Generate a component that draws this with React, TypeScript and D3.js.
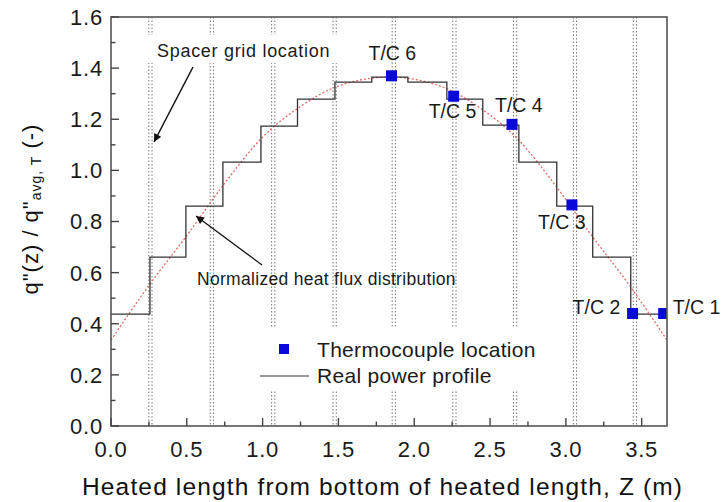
import * as d3 from 'd3';

const VW = 721;
const VH = 502;
const PLOT = { left: 111, right: 667, top: 17, bottom: 426 };

// heated length (m) and normalized heat flux
const Z_MAX = 3.667;
const X_TICKS = [0, 0.5, 1.0, 1.5, 2.0, 2.5, 3.0, 3.5];
const X_MINOR = [0.25, 0.75, 1.25, 1.75, 2.25, 2.75, 3.25];
const Y_TICKS = [0, 0.2, 0.4, 0.6, 0.8, 1.0, 1.2, 1.4, 1.6];
const Y_MINOR = [0.1, 0.3, 0.5, 0.7, 0.9, 1.1, 1.3, 1.5];

const SPACER_Z = [0.26, 0.665, 1.07, 1.475, 1.865, 2.265, 2.665, 3.06, 3.455];

const STEP_EDGES = [0, 0.257, 0.494, 0.738, 0.989, 1.23, 1.477, 1.72, 1.958, 2.215, 2.452, 2.69, 2.94, 3.177, 3.428, 3.667];
const STEP_Q = [0.438, 0.661, 0.86, 1.032, 1.173, 1.279, 1.345, 1.365, 1.345, 1.279, 1.177, 1.032, 0.86, 0.661, 0.438];

const CURVE_Z = [0, 0.25, 0.5, 0.75, 1.0, 1.25, 1.5, 1.835, 2.17, 2.42, 2.67, 2.92, 3.17, 3.42, 3.667];
const CURVE_Q = [0.336, 0.55, 0.745, 0.95, 1.13, 1.25, 1.33, 1.365, 1.33, 1.25, 1.13, 0.95, 0.745, 0.55, 0.336];

const TC_NAMES = ['T/C 1', 'T/C 2', 'T/C 3', 'T/C 4', 'T/C 5', 'T/C 6'];
const TC_Z = [3.645, 3.44, 3.04, 2.645, 2.26, 1.85];
const TC_Q = [0.44, 0.44, 0.865, 1.18, 1.29, 1.37];
// label offset from marker centre (px)
const TC_LABEL_OFFSET: [number, number][] = [[9, 0], [-60, 0], [-34, 24], [-17, -12], [-25, 22], [-23, -16]];

const BLUE = '#0a0ad8';
const RED = '#e06a6a';
const INK = '#333';
const FONT = '"Liberation Sans", Arial, Helvetica, sans-serif';

const x = d3.scaleLinear().domain([0, Z_MAX]).range([PLOT.left, PLOT.right]);
const y = d3.scaleLinear().domain([0, 1.6]).range([PLOT.bottom, PLOT.top]);

const stepPath = d3.line<number>()
  .x(z => x(z))
  .y((_, i) => y(STEP_Q[Math.min(i, STEP_Q.length - 1)]))
  .curve(d3.curveStepAfter)(STEP_EDGES)!;

const curvePath = d3.line<number>()
  .x(z => x(z))
  .y((_, i) => y(CURVE_Q[i]))
  .curve(d3.curveMonotoneX)(CURVE_Z)!;

const fmt = d3.format('.1f');

export default function App() {
  const MK = 11;
  return (
    <svg width={VW} height={VH} viewBox={`0 0 ${VW} ${VH}`}
      style={{ position: 'absolute', left: 0, top: 0, background: '#fff' }} fontFamily={FONT}>
      <defs>
        <clipPath id="plotClip">
          <rect x={PLOT.left} y={PLOT.top} width={PLOT.right - PLOT.left} height={PLOT.bottom - PLOT.top} />
        </clipPath>
        <marker id="ah" viewBox="0 0 10 10" refX={10} refY={5} markerWidth={12} markerHeight={8}
          markerUnits="userSpaceOnUse" orient="auto">
          <path d="M0,0 L10,5 L0,10 z" fill="#111" />
        </marker>
      </defs>
      <rect width={VW} height={VH} fill="#fff" />

      {/* spacer grids: pairs of dotted lines */}
      {SPACER_Z.map(z => (
        <g key={`sg${z}`}>
          {[-1.6, 1.6].map(o => (
            <line key={o} x1={x(z) + o} x2={x(z) + o} y1={PLOT.top} y2={PLOT.bottom}
              stroke="#777" strokeWidth={1} strokeDasharray="1.5,2" />
          ))}
        </g>
      ))}

      {/* label backgrounds that break the grid lines */}
      <rect x={140} y={35} width={205} height={28} fill="#fff" />
      <rect x={256} y={328} width={290} height={62} fill="#fff" />

      <path d={curvePath} fill="none" stroke={RED} strokeWidth={1.3} strokeDasharray="2,2" />
      <path d={stepPath} fill="none" stroke={INK} strokeWidth={1.3} />

      <g clipPath="url(#plotClip)">
        {TC_Z.map((z, i) => (
          <rect key={`tc${i}`} x={x(z) - MK / 2} y={y(TC_Q[i]) - MK / 2} width={MK} height={MK} fill={BLUE} />
        ))}
      </g>
      {TC_Z.map((z, i) => (
        <text key={`tcl${i}`} x={x(z) + TC_LABEL_OFFSET[i][0]} y={y(TC_Q[i]) + TC_LABEL_OFFSET[i][1]}
          fontSize={19.5} fill="#1a1a1a">{TC_NAMES[i]}</text>
      ))}

      {/* frame */}
      <rect x={PLOT.left} y={PLOT.top} width={PLOT.right - PLOT.left} height={PLOT.bottom - PLOT.top}
        fill="none" stroke="#555" strokeWidth={1.6} />

      {/* ticks */}
      {X_TICKS.map(t => (
        <g key={`xt${t}`}>
          <line x1={x(t)} x2={x(t)} y1={PLOT.bottom} y2={PLOT.bottom - 8} stroke="#444" strokeWidth={1.4} />
          <text x={x(t)} y={457} textAnchor="middle" fontSize={22} fill="#1a1a1a" letterSpacing={0.8}>{fmt(t)}</text>
        </g>
      ))}
      {X_MINOR.map(t => (
        <line key={`xm${t}`} x1={x(t)} x2={x(t)} y1={PLOT.bottom} y2={PLOT.bottom - 4.5} stroke="#444" strokeWidth={1.4} />
      ))}
      {Y_TICKS.map(t => (
        <g key={`yt${t}`}>
          <line x1={PLOT.left} x2={PLOT.left + 8} y1={y(t)} y2={y(t)} stroke="#444" strokeWidth={1.4} />
          <text x={103} y={y(t)} dy="0.36em" textAnchor="end" fontSize={22} fill="#1a1a1a" letterSpacing={0.8}>{fmt(t)}</text>
        </g>
      ))}
      {Y_MINOR.map(t => (
        <line key={`ym${t}`} x1={PLOT.left} x2={PLOT.left + 4.5} y1={y(t)} y2={y(t)} stroke="#444" strokeWidth={1.4} />
      ))}

      {/* annotations */}
      <text x={157} y={57} fontSize={18} fill="#1a1a1a" letterSpacing={0.7}>Spacer grid location</text>
      <line x1={193} y1={67} x2={154} y2={142} stroke="#111" strokeWidth={1.5} markerEnd="url(#ah)" />
      <text x={197} y={285} fontSize={17.5} fill="#1a1a1a" letterSpacing={0.3}>Normalized heat flux distribution</text>
      <line x1={262} y1={265} x2={196} y2={216} stroke="#111" strokeWidth={1.3} markerEnd="url(#ah)" />

      {/* legend */}
      <rect x={284 - 5} y={349 - 5} width={10} height={10} fill={BLUE} />
      <text x={317} y={357} fontSize={21} fill="#1a1a1a" letterSpacing={0.3}>Thermocouple location</text>
      <line x1={260} x2={309} y1={376} y2={376} stroke={INK} strokeWidth={1.2} />
      <text x={317} y={383} fontSize={21} fill="#1a1a1a" letterSpacing={0.3}>Real power profile</text>

      {/* axis titles */}
      <text x={382} y={495} textAnchor="middle" fontSize={24.5} fill="#111" textLength={600} lengthAdjust="spacing">
        Heated length from bottom of heated length, Z (m)
      </text>
      <text transform="translate(38,209) rotate(-90)" textAnchor="middle" fontSize={22} fill="#111" letterSpacing={1}>
        q"(z) / q"<tspan fontSize={14} dy={3}>avg, T</tspan><tspan fontSize={22} dy={-3}> (-)</tspan>
      </text>
    </svg>
  );
}
